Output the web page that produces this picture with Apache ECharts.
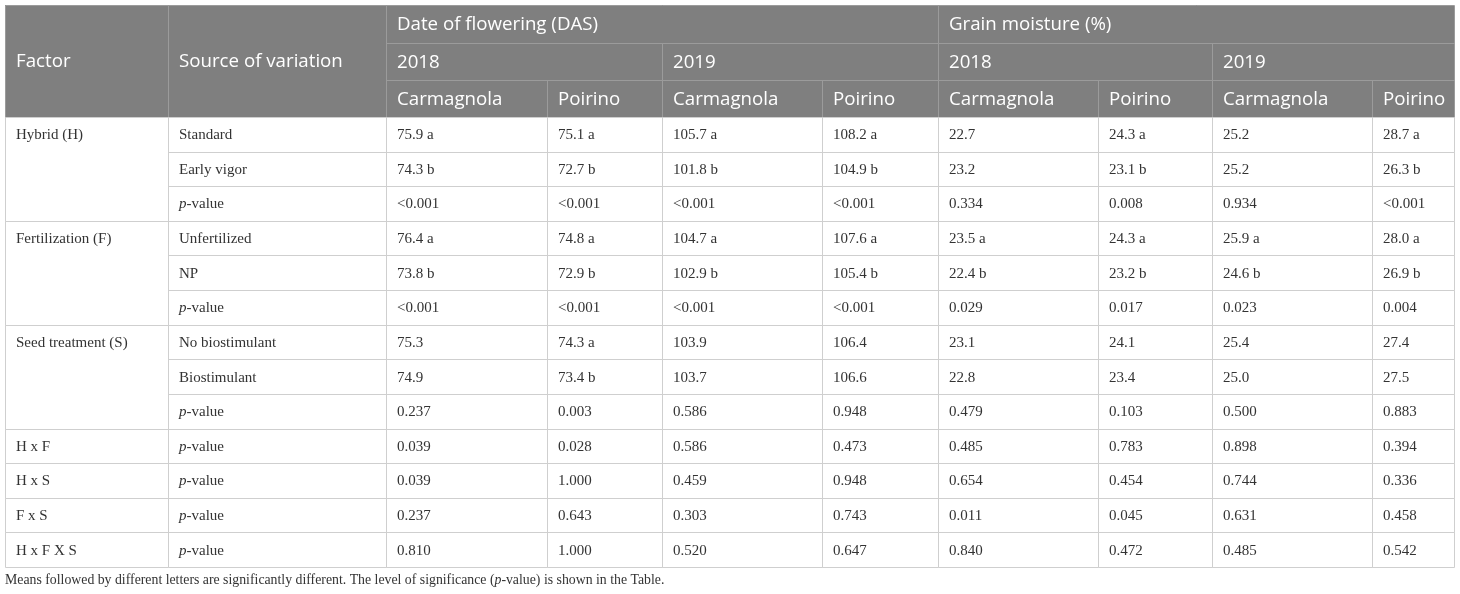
<!DOCTYPE html>
<html>
<head>
<meta charset="utf-8">
<script src="https://cdn.jsdelivr.net/npm/echarts@6/dist/echarts.min.js"></script>
<style>
  html, body { margin: 0; padding: 0; background: #fff; }
  #main { width: 1460px; height: 594px; }
</style>
</head>
<body>
<div id="main"></div>
<script>
// table content
const measures = ['Date of flowering (DAS)', 'Grain moisture (%)']
const years = ['2018', '2019']
const sites = ['Carmagnola', 'Poirino']
const factors = ['Hybrid (H)', 'Fertilization (F)', 'Seed treatment (S)', 'H x F', 'H x S', 'F x S', 'H x F X S']
const factorSpans = [3, 3, 3, 1, 1, 1, 1]
const sources = ['Standard', 'Early vigor', '{i|p}-value', 'Unfertilized', 'NP', '{i|p}-value',
  'No biostimulant', 'Biostimulant', '{i|p}-value', '{i|p}-value', '{i|p}-value', '{i|p}-value', '{i|p}-value']
const dasCarm2018 = ['75.9 a', '74.3 b', '<0.001', '76.4 a', '73.8 b', '<0.001', '75.3', '74.9', '0.237', '0.039', '0.039', '0.237', '0.810']
const dasPoir2018 = ['75.1 a', '72.7 b', '<0.001', '74.8 a', '72.9 b', '<0.001', '74.3 a', '73.4 b', '0.003', '0.028', '1.000', '0.643', '1.000']
const dasCarm2019 = ['105.7 a', '101.8 b', '<0.001', '104.7 a', '102.9 b', '<0.001', '103.9', '103.7', '0.586', '0.586', '0.459', '0.303', '0.520']
const dasPoir2019 = ['108.2 a', '104.9 b', '<0.001', '107.6 a', '105.4 b', '<0.001', '106.4', '106.6', '0.948', '0.473', '0.948', '0.743', '0.647']
const moistCarm2018 = ['22.7', '23.2', '0.334', '23.5 a', '22.4 b', '0.029', '23.1', '22.8', '0.479', '0.485', '0.654', '0.011', '0.840']
const moistPoir2018 = ['24.3 a', '23.1 b', '0.008', '24.3 a', '23.2 b', '0.017', '24.1', '23.4', '0.103', '0.783', '0.454', '0.045', '0.472']
const moistCarm2019 = ['25.2', '25.2', '0.934', '25.9 a', '24.6 b', '0.023', '25.4', '25.0', '0.500', '0.898', '0.744', '0.631', '0.485']
const moistPoir2019 = ['28.7 a', '26.3 b', '<0.001', '28.0 a', '26.9 b', '0.004', '27.4', '27.5', '0.883', '0.394', '0.336', '0.458', '0.542']
const footnote = 'Means followed by different letters are significantly different. The level of significance ({i|p}-value) is shown in the Table.'

const valueCols = [dasCarm2018, dasPoir2018, dasCarm2019, dasPoir2019, moistCarm2018, moistPoir2018, moistCarm2019, moistPoir2019]

// layout (axis units = px)
const colEdges = [5, 168, 386, 547, 662, 822, 938, 1098, 1212, 1372, 1454]
const headRows = 3
const rowEdges = [5, 43, 80, 117]
for (let i = 1; i <= sources.length; i++) rowEdges.push(117 + (i * 450) / sources.length)

// build cell list
let cells = []
cells.push({ c: 0, r: 0, cs: 1, rs: 3, t: 'Factor', head: true })
cells.push({ c: 1, r: 0, cs: 1, rs: 3, t: 'Source of variation', head: true })
measures.forEach((m, i) => {
  cells.push({ c: 2 + i * 4, r: 0, cs: 4, rs: 1, t: m, head: true })
  years.forEach((y, j) => {
    cells.push({ c: 2 + i * 4 + j * 2, r: 1, cs: 2, rs: 1, t: y, head: true })
    sites.forEach((s, k) => {
      cells.push({ c: 2 + i * 4 + j * 2 + k, r: 2, cs: 1, rs: 1, t: s, head: true })
    })
  })
})
let r = headRows
factors.forEach((f, i) => {
  cells.push({ c: 0, r: r, cs: 1, rs: factorSpans[i], t: f })
  r += factorSpans[i]
})
sources.forEach((s, i) => {
  cells.push({ c: 1, r: headRows + i, cs: 1, rs: 1, t: s })
  valueCols.forEach((col, j) => {
    cells.push({ c: 2 + j, r: headRows + i, cs: 1, rs: 1, t: col[i] })
  })
})

const HEAD_BG = '#7f7f7f'
const HEAD_LINE = '#9b9b9b'
const BODY_LINE = '#cfcfcf'
const serif = '"Liberation Serif", "DejaVu Serif", serif'
const sans = '"Open Sans", "Noto Sans", sans-serif'

const box = (api, cell) => {
  let p0 = api.coord([colEdges[cell.c], rowEdges[cell.r]])
  let p1 = api.coord([colEdges[cell.c + cell.cs], rowEdges[cell.r + cell.rs]])
  let p2 = api.coord([colEdges[cell.c], rowEdges[cell.r + 1]])
  let x0 = Math.round(p0[0])
  let y0 = Math.round(p0[1])
  let x1 = Math.round(p1[0])
  let y1 = Math.round(p1[1])
  return { x: x0, y: y0, w: x1 - x0, h: y1 - y0, ty: (p0[1] + p2[1]) / 2, tyAll: (p0[1] + p1[1]) / 2 }
}

const fillItem = (params, api) => {
  let cell = cells[params.dataIndex]
  let b = box(api, cell)
  return {
    type: 'rect',
    shape: { x: b.x, y: b.y, width: b.w, height: b.h },
    style: { fill: cell.head ? HEAD_BG : '#fff' },
  }
}

const lineItem = (params, api) => {
  let cell = cells[params.dataIndex]
  let b = box(api, cell)
  let size = cell.head ? 18.7 : 15
  let family = cell.head ? sans : serif
  let color = cell.head ? '#fff' : '#333'
  let ty = cell.head ? b.tyAll : b.ty
  return {
    type: 'group',
    children: [
      {
        type: 'rect',
        shape: { x: b.x + 0.5, y: b.y + 0.5, width: b.w, height: b.h },
        style: { fill: null, stroke: cell.head ? HEAD_LINE : BODY_LINE, lineWidth: 1 },
      },
      {
        type: 'text',
        x: b.x + 11,
        y: ty + 1,
        style: {
          text: cell.t,
          fill: color,
          fontSize: size,
          fontFamily: family,
          align: 'left',
          verticalAlign: 'middle',
          rich: {
            i: { fontStyle: 'italic', fontSize: size, fontFamily: family, fill: color },
          },
        },
      },
    ],
  }
}

let option = {
  animation: false,
  title: {
    text: footnote,
    left: 5,
    top: 573,
    padding: 0,
    textStyle: {
      fontSize: 13.8,
      fontWeight: 'normal',
      fontFamily: serif,
      color: '#333',
      rich: {
        i: { fontStyle: 'italic', fontSize: 13.8, fontFamily: serif, color: '#333' },
      },
    },
  },
  grid: { left: 5, top: 5, width: 1449, height: 562 },
  xAxis: { type: 'value', min: 5, max: 1454, show: false },
  yAxis: { type: 'value', min: 5, max: 567, inverse: true, show: false },
  series: [
    {
      type: 'custom',
      renderItem: fillItem,
      data: cells.map((c) => [colEdges[c.c], rowEdges[c.r]]),
      silent: true,
    },
    {
      type: 'custom',
      renderItem: lineItem,
      data: cells.map((c) => [colEdges[c.c], rowEdges[c.r]]),
      silent: true,
    },
  ],
}

let myChart = echarts.init(document.getElementById('main'))
myChart.setOption(option)
</script>
</body>
</html>
